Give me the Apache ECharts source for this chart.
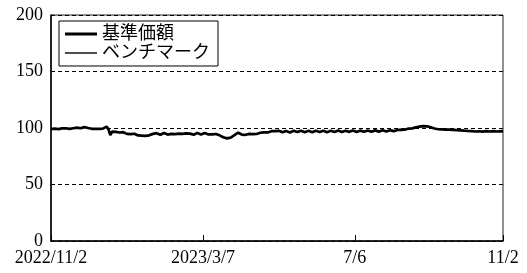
<!DOCTYPE html>
<html>
<head>
<meta charset="utf-8">
<script src="https://cdn.jsdelivr.net/npm/echarts@6/dist/echarts.min.js"></script>
<style>
  html, body { margin: 0; padding: 0; background: #fff; }
  #chart { width: 527px; height: 273px; }
</style>
</head>
<body>
<div id="chart"></div>
<script>
// 基準価額 (daily, 2022/11/2 - 2023/11/2)
const navValues = [
  99.0, 99.2, 99.5, 99.3, 99.0, 99.4, 99.6, 99.5, 99.8, 99.6, 99.3, 99.5, 99.8, 100.1, 100.3, 100.0, 99.8,
  100.4, 100.8, 100.5, 100.0, 99.6, 99.3, 99.5, 99.2, 99.0, 99.3, 99.1, 99.4, 99.8,
  101.2, 99.0, 93.6, 96.8, 96.0,
  96.5, 97.1, 96.0, 95.5, 96.3, 95.3, 94.8, 95.6, 94.6, 94.1, 94.9, 93.8, 93.4, 94.1, 93.2,
  92.5,
  93.0, 93.8, 93.5, 94.3, 94.8,
  94.4, 95.4, 94.7, 94.0, 95.0, 95.6, 94.8, 94.2, 94.0, 94.8,
  95.3, 94.6, 94.1, 95.0, 95.5, 94.8, 94.3, 95.2, 95.7, 95.0,
  94.4, 94.1, 95.0, 95.5, 94.6, 94.2, 95.1, 95.6, 94.9, 94.3,
  95.0, 94.4, 94.0, 94.7, 94.1,
  93.5, 92.6, 91.8, 91.2, 90.8, 91.0, 91.5, 92.4, 93.6,
  95.0, 95.8, 94.6, 94.2, 94.5, 94.0, 94.4, 94.8, 94.3, 94.6, 95.0, 94.7,
  95.3, 95.8, 95.5, 96.2, 96.6, 96.1, 96.8, 97.2, 96.7, 97.3, 97.0, 97.5,
  96.8, 96.2, 96.9, 97.4, 96.7, 96.1, 96.8, 97.5, 97.0, 96.4, 97.1, 97.6, 96.9, 96.3, 97.0, 97.5, 96.8,
  96.2, 96.9, 97.6, 97.1, 96.4, 96.8, 97.5, 97.0, 96.3, 96.9,
  97.6, 97.2, 96.5, 97.0, 97.7, 97.1, 96.4, 96.9, 97.6, 97.3,
  96.6, 97.1, 97.8, 97.2, 96.5, 97.0, 97.7, 97.3, 96.6, 97.2,
  97.8, 97.3, 96.7, 97.2, 97.9, 97.4, 96.8, 97.3, 98.0, 97.5,
  96.9, 97.4, 98.1, 97.6,
  97.2, 97.8, 98.3, 97.9, 98.4, 98.9, 98.5, 99.0, 99.5, 99.2, 99.7, 100.2, 100.5, 100.9, 101.2,
  101.4, 101.6, 101.3, 101.5, 101.0, 100.6, 100.1, 99.6, 99.2, 98.9,
  98.5, 98.8, 98.3, 98.6, 98.2, 98.5, 98.0, 98.4, 97.8, 98.1, 97.5, 97.9, 97.2, 97.6, 96.9, 97.4,
  96.6, 97.3, 97.9, 96.9, 96.3, 97.1, 97.8, 96.8, 96.2, 97.2, 97.9, 96.9, 96.3, 97.2, 97.8, 96.9, 96.4, 97.2, 96.9
]
// ベンチマーク (no values drawn)
const benchValues = []

const categories = navValues.map((v, i) => i)
const tickIndex = [0, 82, 164, navValues.length - 1]
const tickLabels = ['2022/11/2', '2023/3/7', '7/6', '11/2']
const yTicks = { min: 0, max: 200, interval: 50 }

const fontFamily = "'Liberation Serif', 'Noto Sans CJK JP', serif"
const black = '#000'

const chart = echarts.init(document.getElementById('chart'))
chart.setOption({
  animation: false,
  textStyle: { fontFamily: fontFamily },
  grid: {
    left: 51, right: 24, top: 15, bottom: 32,
    show: true,
    borderColor: '#222',
    borderWidth: 1
  },
  legend: {
    left: 59, top: 21,
    orient: 'vertical',
    padding: [4, 8, 4, 6],
    itemGap: 1,
    itemWidth: 32,
    itemHeight: 14,
    borderColor: black,
    borderWidth: 1,
    textStyle: { color: black, fontSize: 18, fontFamily: fontFamily },
    data: [
      { name: '基準価額', icon: 'path://M0,0H32V3H0Z' },
      { name: 'ベンチマーク', icon: 'path://M0,0H32V1.4H0Z' }
    ]
  },
  xAxis: {
    type: 'category',
    data: categories,
    boundaryGap: false,
    axisLine: { lineStyle: { color: black, width: 1.5 } },
    axisTick: {
      inside: true,
      length: 6,
      interval: (idx) => tickIndex.includes(idx),
      lineStyle: { color: black }
    },
    axisLabel: {
      interval: (idx) => tickIndex.includes(idx),
      formatter: (v, idx) => tickLabels[tickIndex.indexOf(idx)],
      color: black,
      fontSize: 18,
      margin: 8,
      fontFamily: fontFamily
    },
    splitLine: { show: false }
  },
  yAxis: {
    type: 'value',
    min: yTicks.min,
    max: yTicks.max,
    interval: yTicks.interval,
    axisLine: { show: true, lineStyle: { color: black, width: 1.5 } },
    axisTick: { show: false },
    axisLabel: { color: black, fontSize: 18, margin: 8, fontFamily: fontFamily },
    splitLine: {
      show: true,
      lineStyle: { color: black, type: [4, 3], width: 1 }
    }
  },
  series: [
    {
      name: '基準価額',
      type: 'line',
      data: navValues,
      showSymbol: false,
      symbol: 'none',
      color: black,
      lineStyle: { color: black, width: 2.7 },
      z: 5
    },
    {
      name: 'ベンチマーク',
      type: 'line',
      data: benchValues,
      showSymbol: false,
      symbol: 'none',
      color: black,
      lineStyle: { color: black, width: 1 }
    }
  ]
})
</script>
</body>
</html>
